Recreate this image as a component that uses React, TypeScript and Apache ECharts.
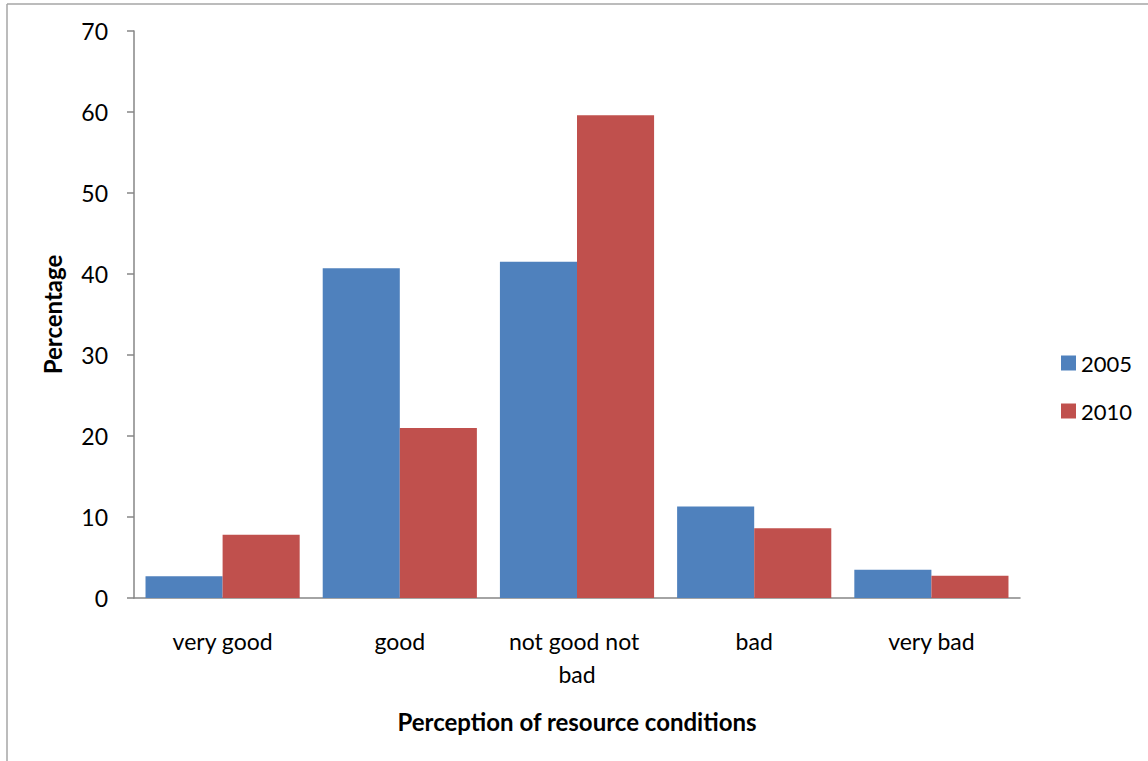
import React, { useEffect, useRef } from "react";
import * as echarts from "echarts";

const categories = ["very good", "good", "not good not bad", "bad", "very bad"];
const series2005 = [2.7, 40.7, 41.5, 11.3, 3.5];
const series2010 = [7.8, 21.0, 59.6, 8.6, 2.75];
const seriesNames = ["2005", "2010"];
const yTicks = { min: 0, max: 70, interval: 10 };

const FONT = "Lato, 'Open Sans', sans-serif";

export default function App() {
  const ref = useRef<HTMLDivElement>(null);
  useEffect(() => {
    if (!ref.current) return;
    const chart = echarts.init(ref.current, undefined, { renderer: "svg" });
    chart.setOption({
      animation: false,
      backgroundColor: "#ffffff",
      textStyle: { fontFamily: FONT },
      grid: { left: 134, top: 31, width: 886, height: 567, containLabel: false },
      legend: {
        orient: "vertical",
        left: 1056,
        top: 347,
        itemWidth: 15,
        itemHeight: 15,
        itemGap: 26,
        icon: "rect",
        textStyle: { fontSize: 22, fontFamily: FONT, color: "#000" },
        data: seriesNames,
      },
      xAxis: {
        type: "category",
        data: categories,
        axisLine: { lineStyle: { color: "#868686", width: 1.5 } },
        axisTick: { show: false },
        axisLabel: {
          fontSize: 23,
          color: "#000",
          fontFamily: FONT,
          margin: 26,
          width: 155,
          overflow: "break",
          lineHeight: 33,
          interval: 0,
        },
        name: "Perception of resource conditions",
        nameLocation: "middle",
        nameGap: 111,
        nameTextStyle: { fontSize: 24, fontWeight: "bold", color: "#000", fontFamily: FONT },
      },
      yAxis: {
        type: "value",
        min: yTicks.min,
        max: yTicks.max,
        interval: yTicks.interval,
        splitLine: { show: false },
        axisLine: { show: true, lineStyle: { color: "#868686", width: 1.5 } },
        axisTick: { show: true, length: 7, lineStyle: { color: "#868686", width: 1.5 } },
        axisLabel: { fontSize: 23, color: "#000", fontFamily: FONT, margin: 26 },
        name: "Percentage",
        nameLocation: "middle",
        nameGap: 70,
        nameTextStyle: { fontSize: 24, fontWeight: "bold", color: "#000", fontFamily: FONT },
      },
      series: [
        {
          name: seriesNames[0],
          type: "bar",
          data: series2005,
          barGap: "0%",
          barCategoryGap: "13%",
          itemStyle: { color: "#4f81bd" },
        },
        {
          name: seriesNames[1],
          type: "bar",
          data: series2010,
          barGap: "0%",
          barCategoryGap: "13%",
          itemStyle: { color: "#c0504d" },
        },
      ],
      graphic: [
        { type: "line", shape: { x1: 7, y1: 4, x2: 1148, y2: 4 }, style: { stroke: "#a6a6a6", lineWidth: 1.5 } },
        { type: "line", shape: { x1: 7, y1: 4, x2: 7, y2: 761 }, style: { stroke: "#a6a6a6", lineWidth: 1.5 } },
      ],
    });
    return () => chart.dispose();
  }, []);
  return (
    <div
      ref={ref}
      style={{ position: "fixed", left: 0, top: 0, width: 1148, height: 761, background: "#fff" }}
    />
  );
}
